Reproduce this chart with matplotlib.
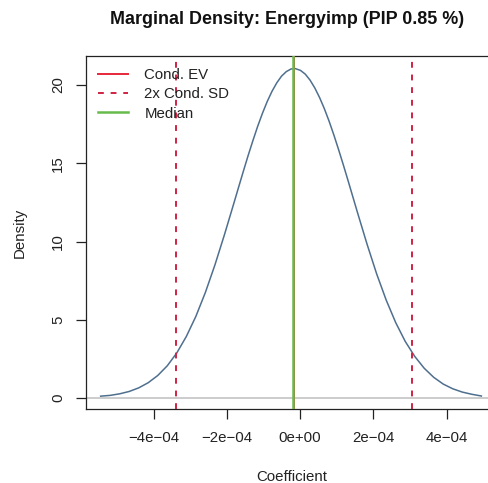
import matplotlib
matplotlib.use("Agg")
import matplotlib.pyplot as plt

# density curve (coefficient in units of 1e-4)
coef = [-5.45, -5.19, -4.93, -4.67, -4.41, -4.15, -3.89, -3.63, -3.37, -3.11,
        -2.85, -2.59, -2.33, -2.07, -1.81, -1.68, -1.55, -1.42, -1.29, -1.16,
        -1.03, -0.90, -0.77, -0.64, -0.51, -0.38, -0.25, -0.14, 0.01, 0.14,
        0.27, 0.40, 0.53, 0.66, 0.79, 0.92, 1.05, 1.18, 1.31, 1.44, 1.57,
        1.83, 2.09, 2.35, 2.61, 2.87, 3.13, 3.39, 3.65, 3.91, 4.17, 4.43,
        4.69, 4.95]
dens = [0.12, 0.17, 0.27, 0.42, 0.65, 0.98, 1.44, 2.06, 2.88, 3.93,
        5.21, 6.74, 8.49, 10.42, 12.45, 13.48, 14.50, 15.50, 16.45, 17.36,
        18.19, 18.94, 19.59, 20.13, 20.56, 20.85, 21.02, 21.05, 20.93, 20.69,
        20.31, 19.81, 19.20, 18.49, 17.69, 16.81, 15.87, 14.89, 13.88, 12.85, 11.82,
        9.81, 7.93, 6.26, 4.82, 3.62, 2.66, 1.90, 1.32, 0.89, 0.59, 0.38,
        0.24, 0.13]
coef = [c * 1e-4 for c in coef]

cond_ev = -0.165e-4
cond_sd = 1.6125e-4
median = -0.183e-4

x_ticks = [-4e-4, -2e-4, 0, 2e-4, 4e-4]
x_labels = ["\u22124e\u221204", "\u22122e\u221204", "0e+00", "2e\u221204", "4e\u221204"]
y_ticks = [0, 5, 10, 15, 20]

plt.rcParams["font.family"] = ["Liberation Sans", "DejaVu Sans"]

W, H = 489, 483
fig = plt.figure(figsize=(W / 100, H / 100), dpi=100)
# the plot box runs a bit past the right edge of the image
ax = fig.add_axes([86 / W, (H - 409) / H, 410 / W, 353 / H])

ax.axhline(0, color="#bebebe", lw=1.1, zorder=1)
ax.plot(coef, dens, color="#4f6f8f", lw=1.1, zorder=2)
ax.axvline(cond_ev, color="#e8273a", lw=1.4, zorder=3, label="Cond. EV")
ax.axvline(cond_ev - 2 * cond_sd, color="#cf2343", lw=1.4, ls=(0, (3, 3.5)), zorder=3,
           label="2x Cond. SD")
ax.axvline(cond_ev + 2 * cond_sd, color="#cf2343", lw=1.4, ls=(0, (3, 3.5)), zorder=3)
ax.axvline(median, color="#66bb4a", lw=1.8, zorder=4, label="Median")

ax.set_xlim(-5.85e-4, 5.35e-4)
ax.set_ylim(-0.70, 21.85)
ax.set_xticks(x_ticks)
ax.set_xticklabels(x_labels)
ax.set_yticks(y_ticks)
ax.set_yticklabels([str(v) for v in y_ticks], rotation=90, va="center")
ax.tick_params(axis="both", length=7, width=0.9, labelsize=10.8, colors="#222222")
ax.tick_params(axis="x", pad=9)
ax.tick_params(axis="y", pad=8)
for s in ax.spines.values():
    s.set_linewidth(0.9)
    s.set_color("#222222")

leg = ax.legend(loc="upper left", frameon=False, fontsize=10.8, handlelength=2.0,
                handletextpad=1.1, labelspacing=0.35, borderaxespad=0.4)
for t in leg.get_texts():
    t.set_color("#222222")

fig.text(287 / W, 1 - 20 / H, "Marginal Density: Energyimp (PIP 0.85 %)",
         ha="center", va="center", fontsize=12.9, fontweight="bold", color="#111111")
fig.text(292 / W, 1 - 477 / H, "Coefficient", ha="center", va="center",
         fontsize=10.8, color="#222222")
fig.text(20 / W, 1 - 233 / H, "Density", ha="center", va="center", rotation=90,
         fontsize=10.8, color="#222222")

fig.savefig("out.png", dpi=100)
